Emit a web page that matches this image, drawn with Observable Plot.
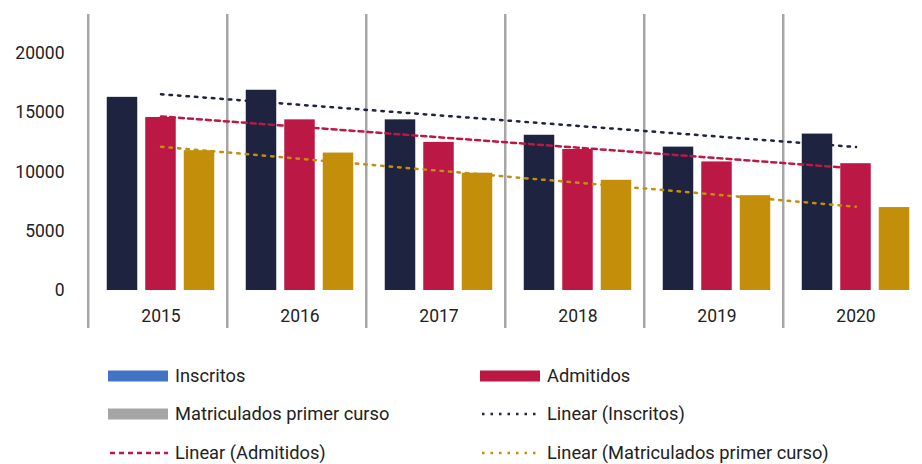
<!DOCTYPE html>
<html><head><meta charset="utf-8">
<script src="https://cdn.jsdelivr.net/npm/d3@7"></script>
<script src="https://cdn.jsdelivr.net/npm/@observablehq/plot@0.6"></script>
<style>
body{margin:0;background:#fff;font-family:Roboto,sans-serif;}
#wrap{position:relative;width:922px;height:464px;overflow:hidden;}
#chart{position:absolute;left:0;top:0;}
.lg{position:absolute;font-size:18.3px;color:#222;line-height:1;white-space:nowrap;transform:translateY(-50%);}
.sw{position:absolute;width:60px;height:11px;transform:translateY(-50%);}
.ln{position:absolute;width:60px;height:6px;transform:translateY(-50%);}
</style></head><body>
<div id="wrap"><div id="chart"></div><div id="legend"></div></div>
<script>
const years = ["2015","2016","2017","2018","2019","2020"];
const inscritos = [16300,16900,14400,13100,12100,13200];
const admitidos = [14600,14400,12500,11900,10850,10700];
const matriculados = [11800,11600,9900,9300,8000,7000];
const yTicks = [0,5000,10000,15000,20000];
const seriesNames = ["Inscritos","Admitidos","Matriculados primer curso"];
const barColors = ["#1e2340","#bc1845","#c38f0a"];
const legendSwatchColors = ["#4472c4","#bc1845","#a5a5a5"];
const trendNames = ["Linear (Inscritos)","Linear (Admitidos)","Linear (Matriculados primer curso)"];
const trendDash = ["2.5,6","5,4","2.5,6"];

const seriesValues = [inscritos, admitidos, matriculados];

function fit(vals){
  const xs = vals.map((_, i) => i);
  const mx = d3.mean(xs), my = d3.mean(vals);
  const sxy = d3.sum(xs, (x, i) => (x - mx) * (vals[i] - my));
  const sxx = d3.sum(xs, x => (x - mx) ** 2);
  const b = sxy / sxx, a = my - b * mx;
  return xs.map(x => a + b * x);
}

const x0 = 89, x1 = 926;
const bw = (x1 - x0) / years.length;
const barW = 31, gap = 7.5;
const outer = (bw - 3 * barW - 2 * gap) / 2;

const marks = [];
marks.push(Plot.ruleX(years, {x: d => d, dx: -bw / 2 - 3, stroke: "#a6a6a6", strokeWidth: 2.5}));
seriesValues.forEach((vals, s) => {
  const rows = years.map((y, i) => ({year: y, value: vals[i]}));
  const left = outer + s * (barW + gap);
  marks.push(Plot.barY(rows, {x: "year", y: "value", fill: barColors[s], insetLeft: left, insetRight: bw - left - barW}));
});
seriesValues.forEach((vals, s) => {
  const f = fit(vals);
  const rows = years.map((y, i) => ({year: y, value: f[i]}));
  marks.push(Plot.line(rows, {x: "year", y: "value", stroke: barColors[s], strokeWidth: 2.5, strokeDasharray: trendDash[s]}));
});
marks.push(Plot.axisY({ticks: yTicks, tickSize: 0, tickPadding: 22, fontSize: 17.5, label: null, tickFormat: d => String(d)}));
marks.push(Plot.axisX({anchor: "bottom", tickSize: 0, tickPadding: 0, dy: -19, fontSize: 17.5, label: null}));

const chart = Plot.plot({
  width: 922, height: 340,
  marginLeft: 86, marginRight: 0, marginTop: 14, marginBottom: 12,
  style: {fontFamily: "Roboto, sans-serif", color: "#222", background: "transparent", overflow: "visible"},
  x: {type: "band", domain: years, range: [x0, x1], paddingInner: 0, paddingOuter: 0},
  y: {domain: [0, 20000], range: [290, 53]},
  marks
});
document.getElementById("chart").appendChild(chart);

// legend
const lg = document.getElementById("legend");
const items = [
  {kind: "sw", color: legendSwatchColors[0], text: seriesNames[0], x: 108, y: 376},
  {kind: "sw", color: legendSwatchColors[1], text: seriesNames[1], x: 480, y: 376},
  {kind: "sw", color: legendSwatchColors[2], text: seriesNames[2], x: 108, y: 414},
  {kind: "ln", color: barColors[0], dash: trendDash[0], text: trendNames[0], x: 480, y: 414},
  {kind: "ln", color: barColors[1], dash: trendDash[1], text: trendNames[1], x: 108, y: 453},
  {kind: "ln", color: barColors[2], dash: trendDash[2], text: trendNames[2], x: 480, y: 453}
];
items.forEach(it => {
  if (it.kind === "sw") {
    const d = document.createElement("div");
    d.className = "sw"; d.style.left = it.x + "px"; d.style.top = it.y + "px"; d.style.background = it.color;
    lg.appendChild(d);
  } else {
    const ns = "http://www.w3.org/2000/svg";
    const s = document.createElementNS(ns, "svg");
    s.setAttribute("class", "ln"); s.setAttribute("width", 60); s.setAttribute("height", 6);
    s.style.left = it.x + "px"; s.style.top = it.y + "px";
    const l = document.createElementNS(ns, "line");
    l.setAttribute("x1", 2); l.setAttribute("x2", 60); l.setAttribute("y1", 3); l.setAttribute("y2", 3);
    l.setAttribute("stroke", it.color); l.setAttribute("stroke-width", 2.5); l.setAttribute("stroke-dasharray", it.dash);
    s.appendChild(l); lg.appendChild(s);
  }
  const t = document.createElement("div");
  t.className = "lg"; t.textContent = it.text; t.style.left = (it.x + 67) + "px"; t.style.top = it.y + "px";
  lg.appendChild(t);
});
</script>
</body></html>
